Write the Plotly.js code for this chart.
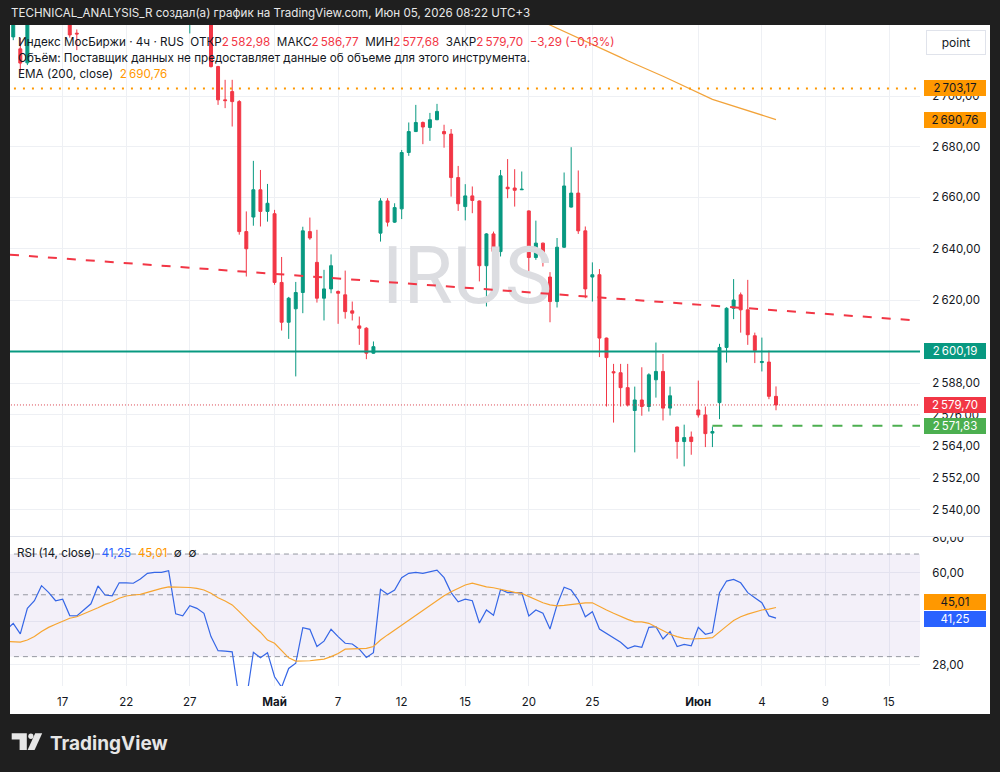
<!DOCTYPE html>
<html>
<head>
<meta charset="utf-8">
<script src="https://cdn.plot.ly/plotly-3.0.1.min.js"></script>
<style>
html,body{margin:0;padding:0;background:#1f1f1f;}
#chart{width:1000px;height:772px;}
</style>
</head>
<body>
<div id="chart"></div>
<script>
// ---------- DATA (4h bars, bar index -8 .. 101) ----------
const openV = [2742, 2723.8, 2719.0, 2713.4, 2738, 2746, 2755, 2749, 2743,
 2744, 2725.3, 2730, 2736, 2741, 2758, 2750, 2749.5, 2760, 2760.2,
 2759.8, 2765, 2772, 2774, 2774.3, 2777, 2748, 2744, 2752, 2749,
 2744, 2711.9, 2698.6, 2701.9, 2697.9, 2646.6, 2652.3, 2663.0, 2654.5, 2653.6,
 2626.8, 2611.4, 2616.6, 2622.9, 2646.6, 2634.6, 2620.7, 2624.3, 2623.3, 2622.0,
 2615.8, 2610.0, 2609.1, 2599.5, 2646.0, 2658.6, 2650.3, 2655.5, 2677.7, 2686.0,
 2689.6, 2687.6, 2690.7, 2686.0, 2685.0, 2667.8, 2656.4, 2660.6, 2658.6, 2633.3,
 2645.7, 2638.8, 2664.0, 2663.7, 2663.0, 2654.7, 2636.5, 2642.1, 2628.9, 2619.4,
 2640.5, 2656.2, 2661.7, 2646.9, 2628.9, 2629.8, 2605.3, 2592.4, 2592.0, 2586.3,
 2577.6, 2581.6, 2579.1, 2589.3, 2592.5, 2578.5, 2571.3, 2565.8, 2567.5, 2577.8,
 2575.9, 2569.0, 2580.6, 2601.7, 2616.8, 2622.0, 2616.2, 2606.2, 2595.9, 2596.1,
 2582.98];
const highV = [2752, 2740, 2723.4, 2742, 2750, 2758, 2760, 2752, 2748,
 2747, 2726.8, 2738, 2744, 2760, 2761, 2754, 2762, 2765, 2764,
 2768, 2774, 2777, 2778, 2780, 2778, 2752, 2755, 2756, 2752,
 2747, 2712.2, 2706.6, 2706.6, 2698.5, 2654.5, 2674.4, 2670.8, 2665.3, 2655.1,
 2636.7, 2621.2, 2627.0, 2648.5, 2652.1, 2647.3, 2631.7, 2637.7, 2623.7, 2631.4,
 2619.4, 2613.6, 2609.5, 2604.0, 2659.7, 2659.7, 2657.7, 2678.7, 2689.6, 2696.6,
 2690.0, 2693.4, 2697.0, 2688.7, 2687.0, 2672.4, 2665.2, 2664.3, 2658.8, 2646.0,
 2646.6, 2670.8, 2675.1, 2671.1, 2670.2, 2654.9, 2650.9, 2642.3, 2630.8, 2644.1,
 2669.8, 2679.8, 2670.6, 2648.6, 2634.6, 2632.0, 2605.5, 2595.4, 2595.4, 2595.4,
 2586.7, 2594.1, 2591.8, 2603.6, 2599.2, 2586.7, 2571.5, 2572.2, 2569.6, 2589.0,
 2579.1, 2571.5, 2603.1, 2617.2, 2628.1, 2622.9, 2627.8, 2607.4, 2605.5, 2600.5,
 2586.77];
const lowV = [2738, 2722.5, 2709.5, 2712.5, 2735, 2742, 2745, 2740, 2736,
 2723.5, 2718.5, 2729.5, 2733, 2740, 2747, 2746, 2748, 2756, 2755,
 2757, 2763, 2769, 2770, 2772, 2745, 2741, 2725.2, 2744, 2740,
 2711.5, 2696.6, 2695.3, 2688.0, 2645.4, 2629.1, 2648.9, 2648.6, 2650.5, 2625.9,
 2608.2, 2605.0, 2590.6, 2614.9, 2643.4, 2619.0, 2612.1, 2622.6, 2610.8, 2612.8,
 2612.1, 2602.7, 2597.2, 2599.3, 2642.7, 2648.6, 2650.0, 2651.5, 2676.4, 2685.8,
 2681.0, 2682.3, 2690.5, 2679.6, 2660.3, 2654.7, 2651.0, 2653.8, 2627.2, 2617.5,
 2636.3, 2636.9, 2659.7, 2656.4, 2662.9, 2631.1, 2635.6, 2633.0, 2611.4, 2617.1,
 2640.2, 2656.0, 2645.7, 2620.7, 2619.4, 2598.0, 2579.1, 2573.0, 2579.1, 2579.1,
 2561.7, 2575.6, 2577.2, 2582.5, 2573.8, 2575.7, 2559.3, 2556.4, 2560.8, 2574.9,
 2563.7, 2563.7, 2574.3, 2595.9, 2612.6, 2607.4, 2602.7, 2595.7, 2592.5, 2581.9,
 2577.68];
const closeV = [2745, 2734, 2713.3, 2738, 2746, 2755, 2749, 2743, 2745,
 2724.6, 2725.0, 2736, 2741, 2758, 2750, 2749.5, 2760, 2760.2, 2759.8,
 2765, 2772, 2774, 2774.3, 2777, 2748, 2746, 2752, 2749, 2744,
 2711.9, 2698.6, 2698.3, 2697.9, 2646.6, 2639.9, 2663.0, 2654.5, 2657.7, 2626.8,
 2611.4, 2620.7, 2622.9, 2646.9, 2644.1, 2620.7, 2624.3, 2633.3, 2622.6, 2615.5,
 2614.9, 2609.1, 2599.5, 2602.0, 2658.6, 2650.3, 2656.0, 2677.7, 2686.0, 2689.6,
 2687.8, 2690.7, 2694.0, 2685.1, 2667.8, 2657.5, 2660.6, 2658.8, 2633.3, 2645.7,
 2638.8, 2668.5, 2663.4, 2662.8, 2663.2, 2636.5, 2642.1, 2637.9, 2619.4, 2640.5,
 2664.5, 2661.7, 2646.9, 2624.3, 2629.8, 2605.3, 2597.8, 2592.0, 2586.3, 2579.7,
 2581.6, 2579.1, 2591.2, 2592.5, 2578.5, 2583.2, 2565.8, 2567.3, 2565.8, 2575.9,
 2568.8, 2569.6, 2601.7, 2616.8, 2620.0, 2616.2, 2606.6, 2600.5, 2596.3, 2582.99,
 2579.70];
const rsiV = [37.4, 39.5, 36.2, 44.7, 47.6, 53.9, 51.0, 47.6, 48.2,
 42.1, 42.0, 44.1, 46.4, 53.8, 49.9, 49.6, 55.2, 55.2, 55.0,
 57.0, 59.7, 60.2, 60.2, 61.0, 42.7, 42.0, 45.7, 44.7, 42.9,
 35.4, 31.5, 31.4, 31.2, 21.1, 21.0, 31.1, 29.7, 31.0, 25.4,
 23.3, 27.2, 28.4, 38.1, 37.6, 32.6, 34.1, 37.6, 35.4, 33.5,
 33.3, 31.9, 29.8, 31.0, 52.3, 50.2, 52.0, 57.6, 59.7, 60.2,
 59.7, 60.5, 61.3, 57.6, 50.9, 47.2, 48.2, 47.6, 39.6, 44.1,
 42.2, 52.2, 50.9, 50.9, 50.9, 42.0, 44.1, 42.9, 37.7, 46.0,
 53.2, 52.0, 47.9, 41.7, 43.5, 37.7, 36.4, 35.2, 33.8, 32.1,
 32.8, 32.4, 38.2, 38.4, 34.7, 36.9, 32.6, 33.2, 32.8, 38.2,
 36.1, 36.6, 50.9, 56.0, 56.8, 55.2, 50.9, 48.8, 46.8, 42.0,
 41.25];
const rsiMaV = [34.0, 33.9, 33.8, 34.4, 35.4, 36.9, 38.2, 39.2, 40.3,
 41.2, 41.7, 42.7, 43.7, 44.9, 46.2, 47.2, 48.6, 49.5, 49.9,
 50.2, 51.0, 52.0, 52.7, 53.4, 53.4, 53.3, 53.1, 52.7, 52.0,
 50.6, 48.8, 47.5, 46.0, 43.5, 40.9, 38.7, 36.7, 34.4, 33.5,
 31.5, 29.7, 28.9, 28.9, 29.0, 29.2, 29.4, 30.0, 30.8, 31.9,
 31.9, 32.0, 32.1, 32.6, 34.4, 35.9, 37.4, 39.0, 40.6, 42.3,
 44.1, 46.0, 47.9, 49.6, 51.3, 52.7, 54.2, 55.0, 54.1, 53.4,
 53.0, 52.3, 51.6, 51.0, 50.6, 49.2, 47.9, 46.8, 46.0, 45.6,
 45.8, 46.2, 46.6, 46.8, 46.8, 45.3, 44.1, 42.9, 41.7, 40.8,
 40.0, 40.0, 39.5, 38.4, 37.1, 36.1, 35.4, 34.9, 34.7, 34.7,
 34.9, 35.1, 36.9, 38.6, 40.4, 41.7, 42.6, 43.4, 44.1, 44.4,
 45.01];
const emaBars = [66, 67, 68, 69, 70, 71, 72, 73, 74, 75, 76, 77, 78, 79, 80, 81, 82, 83,
 84, 85, 86, 87, 88, 89, 90, 91, 92, 93, 94, 95, 96, 97, 98, 99, 100, 101];
const emaV = [2732.0, 2731.0, 2729.8, 2728.6, 2727.3, 2726.1, 2724.9, 2723.7, 2722.4, 2721.0,
 2719.7, 2718.2, 2716.9, 2715.6, 2714.2, 2713.0, 2711.8, 2710.6, 2709.3, 2708.0,
 2706.7, 2705.4, 2704.1, 2702.6, 2701.6, 2700.3, 2698.8, 2697.9, 2697.0, 2696.3,
 2695.4, 2694.4, 2693.5, 2692.6, 2691.6, 2690.76];
const firstBar = -8;
const barIndex = openV.map((_, k) => k + firstBar);

const tickBars = [0, 9, 18, 30, 39, 48, 57, 66, 75, 90, 99, 108, 117];
const tickLabels = ['17', '22', '27', '<b>Май</b>', '7', '12', '15', '20', '25', '<b>Июн</b>', '4', '9', '15'];
const priceTicks = [2540, 2552, 2564, 2576, 2588, 2600, 2620, 2640, 2660, 2680, 2700];
const priceTicksHidden = [2600];   // label fully covered by the 2600,19 marker
const rsiTicks = [28, 40, 60, 80];
const rsiTicksHidden = [40];       // label covered by the 41,25 marker
const rsiLevels = [30, 50, 70];

const levelOrange = 2703.17;
const levelTeal = 2600.19;
const levelGreen = 2571.83;
const levelGreenStart = 92;
const trendBars = [-7.46, 120.26];
const trendPrices = [2637.6, 2612.2];
const watermarkBar = 57.25, watermarkPrice = 2626.7;

// ---------- helpers ----------
const FONT = 'Inter, "Noto Sans", Roboto, sans-serif';
const DARK = '#131722', RED = '#f23645', TEAL = '#089981', ORANGE = '#ff9800', BLUE = '#2962ff', GREEN = '#4caf50';
const fmt = v => {
  const s = Math.abs(v).toFixed(2).split('.');
  let a = s[0];
  if (a.length > 3) a = a.slice(0, a.length - 3) + '\u202f' + a.slice(-3);
  return (v < 0 ? '\u2212' : '') + a + ',' + s[1];
};
const px = x => (x - 10) / 910;
const py = y => (686 - y) / 661;
const pathOf = pts => 'M ' + pts.map(p => px(p[0]) + ',' + py(p[1])).join(' L ') + ' Z';

const N = closeV.length;
const lastO = openV[N - 1], lastH = highV[N - 1], lastL = lowV[N - 1], lastC = closeV[N - 1];
const chg = lastC - closeV[N - 2];
const chgPct = chg / closeV[N - 2] * 100;
const XL = -12, XR = 130;

// ---------- traces ----------
const traces = [];
traces.push({type: 'scatter', mode: 'text', x: [watermarkBar], y: [watermarkPrice], text: ['IRUS'],
  textposition: 'middle center', textfont: {family: 'Roboto, ' + FONT, size: 80, color: '#dcdde1'},
  xaxis: 'x', yaxis: 'y', hoverinfo: 'skip'});
// RSI band
traces.push({type: 'scatter', mode: 'lines', x: [XL, XR], y: [rsiLevels[0], rsiLevels[0]], line: {width: 0},
  xaxis: 'x', yaxis: 'y2', hoverinfo: 'skip'});
traces.push({type: 'scatter', mode: 'lines', x: [XL, XR], y: [rsiLevels[2], rsiLevels[2]], line: {width: 0},
  fill: 'tonexty', fillcolor: 'rgba(126,87,194,0.09)', xaxis: 'x', yaxis: 'y2', hoverinfo: 'skip'});
rsiLevels.forEach(l => traces.push({type: 'scatter', mode: 'lines', x: [XL, XR], y: [l, l],
  line: {color: '#9598a1', width: 1, dash: '5px,4px'}, xaxis: 'x', yaxis: 'y2', hoverinfo: 'skip'}));
traces.push({type: 'scatter', mode: 'lines', x: barIndex, y: rsiV, line: {color: '#3566e6', width: 1.2},
  xaxis: 'x', yaxis: 'y2', hoverinfo: 'skip'});
traces.push({type: 'scatter', mode: 'lines', x: barIndex, y: rsiMaV, line: {color: '#f7a531', width: 1.2},
  xaxis: 'x', yaxis: 'y2', hoverinfo: 'skip'});
// candles
traces.push({type: 'candlestick', x: barIndex, open: openV, high: highV, low: lowV, close: closeV,
  xaxis: 'x', yaxis: 'y', whiskerwidth: 0, hoverinfo: 'skip',
  increasing: {line: {color: TEAL, width: 1}, fillcolor: TEAL},
  decreasing: {line: {color: RED, width: 1}, fillcolor: RED}});
// EMA 200
traces.push({type: 'scatter', mode: 'lines', x: emaBars, y: emaV, line: {color: '#f2a33a', width: 1.2},
  xaxis: 'x', yaxis: 'y', hoverinfo: 'skip'});
// drawings
traces.push({type: 'scatter', mode: 'lines', x: [XL, XR], y: [levelOrange, levelOrange],
  line: {color: ORANGE, width: 2, dash: '2px,7px'}, xaxis: 'x', yaxis: 'y', hoverinfo: 'skip'});
traces.push({type: 'scatter', mode: 'lines', x: [XL, XR], y: [levelTeal, levelTeal],
  line: {color: TEAL, width: 2}, xaxis: 'x', yaxis: 'y', hoverinfo: 'skip'});
traces.push({type: 'scatter', mode: 'lines', x: [XL, XR], y: [lastC, lastC],
  line: {color: '#d9434f', width: 1, dash: '1px,2px'}, xaxis: 'x', yaxis: 'y', hoverinfo: 'skip'});
traces.push({type: 'scatter', mode: 'lines', x: [levelGreenStart, XR], y: [levelGreen, levelGreen],
  line: {color: GREEN, width: 2, dash: '10px,10px'}, xaxis: 'x', yaxis: 'y', hoverinfo: 'skip'});
traces.push({type: 'scatter', mode: 'lines', x: trendBars, y: trendPrices,
  line: {color: RED, width: 2, dash: '9px,10px'}, xaxis: 'x', yaxis: 'y', hoverinfo: 'skip'});

// ---------- annotations ----------
const ann = [];
const txt = (x, y, text, size, color, extra) => Object.assign({xref: 'paper', yref: 'paper', x: px(x), y: py(y),
  xanchor: 'left', yanchor: 'middle', text: text, showarrow: false, borderpad: 0,
  font: {family: FONT, size: size, color: color}}, extra || {});
ann.push(txt(10, 13, 'TECHNICAL_ANALYSIS_R создал(а) график на TradingView.com, Июн 05, 2026 08:22 UTC+3', 11.6, '#e8e8e8'));
const rs = s => `<span style="color:${RED}">${s}</span>`;
ann.push(txt(17, 42, `Индекс МосБиржи · 4ч · RUS\u00a0\u00a0ОТКР${rs(fmt(lastO))}\u00a0\u00a0МАКС${rs(fmt(lastH))}\u00a0\u00a0МИН${rs(fmt(lastL))}\u00a0\u00a0ЗАКР${rs(fmt(lastC))}\u00a0\u00a0${rs(fmt(chg) + ' (' + fmt(chgPct) + '%)')}`, 11.7, DARK));
ann.push(txt(17, 58.3, 'Объём: Поставщик данных не предоставляет данные об объеме для этого инструмента.', 11.7, DARK));
ann.push(txt(17, 74.3, `EMA (200, close)\u00a0\u00a0<span style="color:${ORANGE}">${fmt(emaV[emaV.length - 1])}</span>`, 11.7, DARK));
ann.push(txt(16, 552.5, `RSI (14, close)\u00a0\u00a0<span style="color:${BLUE}">${fmt(rsiV[N - 1])}</span>\u00a0\u00a0<span style="color:${ORANGE}">${fmt(rsiMaV[N - 1])}</span>\u00a0\u00a0∅\u00a0\u00a0∅`, 11.7, DARK));
// point button
ann.push({xref: 'paper', yref: 'paper', x: px(956), y: py(42.5), xanchor: 'center', yanchor: 'middle', text: 'point',
  showarrow: false, bgcolor: '#ffffff', bordercolor: '#e0e3eb', borderwidth: 1, borderpad: 1, width: 56, height: 21,
  font: {family: FONT, size: 12, color: DARK}});
// cover upper half of the clipped "80,00" tick label
ann.push({xref: 'paper', yref: 'paper', x: px(922), y: py(536), xanchor: 'left', yanchor: 'bottom', text: '.',
  showarrow: false, bgcolor: '#ffffff', borderpad: 0, borderwidth: 0, width: 66, height: 12,
  font: {size: 8, color: '#ffffff'}});
// price labels
const lab = (yref, val, bg, fg, shift) => ({xref: 'paper', yref: yref, x: px(954.5), y: Math.log10(val),
  xanchor: 'center', yanchor: 'middle', text: fmt(val), showarrow: false, bgcolor: bg, borderwidth: 0, borderpad: 1,
  width: 60, height: 14, yshift: shift || 0, font: {family: FONT, size: 11.5, color: fg}});
ann.push(lab('y', levelOrange, ORANGE, DARK));
ann.push(lab('y', emaV[emaV.length - 1], ORANGE, DARK));
ann.push(lab('y', levelTeal, TEAL, '#ffffff'));
ann.push(lab('y', lastC, RED, '#ffffff'));
ann.push(lab('y', levelGreen, GREEN, '#ffffff'));
ann.push(lab('y2', rsiMaV[N - 1], ORANGE, DARK, 5.5));
ann.push(lab('y2', rsiV[N - 1], BLUE, '#ffffff', -0.6));
// TradingView logo text
ann.push(txt(49, 743, '<b>TradingView</b>', 19, '#e6e6e6'));

// ---------- shapes ----------
const shapes = [
  {type: 'rect', xref: 'paper', yref: 'paper', x0: px(10), x1: px(990), y0: py(714), y1: py(25),
   fillcolor: '#ffffff', line: {width: 0}, layer: 'below'},
  {type: 'line', xref: 'paper', yref: 'paper', x0: px(10), x1: px(990), y0: py(536.5), y1: py(536.5),
   line: {color: '#e0e3eb', width: 1}},
  {type: 'path', xref: 'paper', yref: 'paper', path: pathOf([[11.7, 733.3], [26.8, 733.3], [26.8, 750], [19.6, 750], [19.6, 739.6], [11.7, 739.6]]),
   fillcolor: '#e6e6e6', line: {width: 0}},
  {type: 'circle', xref: 'paper', yref: 'paper', x0: px(28.3), x1: px(33.5), y0: py(738.9), y1: py(733.5),
   fillcolor: '#e6e6e6', line: {width: 0}},
  {type: 'path', xref: 'paper', yref: 'paper', path: pathOf([[35.2, 733.3], [42.2, 733.3], [34.6, 750], [27.6, 750]]),
   fillcolor: '#e6e6e6', line: {width: 0}}
];

const priceDomainBottom = (686 - 537) / 661;
const tickFont = {family: FONT, size: 11.5, color: DARK};
const layout = {
  width: 1000, height: 772,
  margin: {l: 10, r: 80, t: 25, b: 86, pad: 0},
  paper_bgcolor: '#1f1f1f', plot_bgcolor: '#ffffff',
  font: {family: FONT, color: DARK, size: 11.5},
  showlegend: false, boxgap: 0.4, hovermode: false,
  xaxis: {domain: [0, 1], range: [-7.46, 121.39], anchor: 'y2', tickmode: 'array', tickvals: tickBars, ticktext: tickLabels,
    showgrid: true, gridcolor: '#eef0f4', gridwidth: 1, zeroline: false, showline: false,
    ticks: 'outside', ticklen: 5, tickcolor: 'rgba(0,0,0,0)', tickfont: tickFont,
    rangeslider: {visible: false}, fixedrange: true},
  yaxis: {domain: [priceDomainBottom, 1], type: 'log', range: [3.40310, 3.43594], side: 'right', anchor: 'x',
    tickmode: 'array', tickvals: priceTicks, ticktext: priceTicks.map(v => priceTicksHidden.includes(v) ? '' : fmt(v)),
    showgrid: true, gridcolor: '#eef0f4', zeroline: false, showline: false,
    ticks: 'outside', ticklen: 9, tickcolor: 'rgba(0,0,0,0)', tickfont: tickFont, fixedrange: true},
  yaxis2: {domain: [0, priceDomainBottom], type: 'log', range: [1.37177, 1.90620], side: 'right', anchor: 'x',
    tickmode: 'array', tickvals: rsiTicks, ticktext: rsiTicks.map(v => rsiTicksHidden.includes(v) ? '' : fmt(v)),
    showgrid: true, gridcolor: '#eef0f4', zeroline: false, showline: false,
    ticks: 'outside', ticklen: 9, tickcolor: 'rgba(0,0,0,0)', tickfont: tickFont, fixedrange: true},
  shapes: shapes,
  annotations: ann
};

Plotly.newPlot('chart', traces, layout, {staticPlot: true, displayModeBar: false});
</script>
</body>
</html>
